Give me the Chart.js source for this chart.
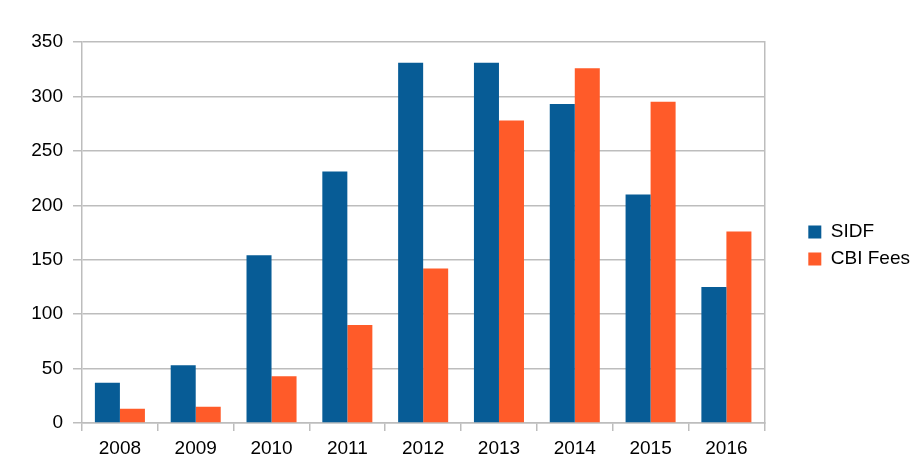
<!DOCTYPE html>
<html lang="en">
<head>
    <meta charset="UTF-8">
    <title>SIDF vs CBI Fees</title>
    <script src="https://cdn.jsdelivr.net/npm/chart.js@4"></script>
    <style>
        html, body { margin: 0; padding: 0; background: #fff; }
        #wrap { width: 924px; height: 474px; }
    </style>
</head>
<body>
<div id="wrap"><canvas id="feesChart" width="924" height="474"></canvas></div>
<script>
    const years = ['2008', '2009', '2010', '2011', '2012', '2013', '2014', '2015', '2016'];
    const sidf = [37, 53, 154, 231, 331, 331, 293, 210, 125];
    const cbiFees = [13, 15, 43, 90, 142, 278, 326, 295, 176];
    const yTicks = [0, 50, 100, 150, 200, 250, 300, 350];

    const gridColor = '#bdbdbd';
    Chart.defaults.font.family = '"Liberation Sans", Arial, sans-serif';
    Chart.defaults.font.size = 19;
    Chart.defaults.color = '#000';

    new Chart(document.getElementById('feesChart'), {
        type: 'bar',
        data: {
            labels: years,
            datasets: [
                { label: 'SIDF', data: sidf, backgroundColor: '#075c96' },
                { label: 'CBI Fees', data: cbiFees, backgroundColor: '#ff5b29' }
            ]
        },
        options: {
            responsive: false,
            animation: false,
            layout: { padding: { top: 42, bottom: 0, left: 0, right: 4 } },
            datasets: { bar: { categoryPercentage: 0.66, barPercentage: 1 } },
            plugins: {
                tooltip: { enabled: false },
                legend: {
                    position: 'right',
                    align: 'start',
                    // empty title only pushes the two entries down to mid height
                    title: { display: true, text: ' ', font: { size: 2 }, padding: { top: 170, bottom: 0 } },
                    labels: { boxWidth: 13, boxHeight: 13, padding: 8, color: '#000' }
                }
            },
            scales: {
                x: {
                    afterFit: s => { s.height = 51; },
                    grid: { drawOnChartArea: false, color: gridColor, lineWidth: 1.5, tickLength: 8, offset: true },
                    border: { color: gridColor, width: 1.5 },
                    ticks: { padding: 6, maxRotation: 0 }
                },
                y: {
                    min: 0,
                    max: 350,
                    afterFit: s => { s.width = 82; },
                    afterBuildTicks: s => { s.ticks = yTicks.map(v => ({ value: v })); },
                    grid: { color: gridColor, lineWidth: 1.5, tickLength: 9 },
                    border: { color: gridColor, width: 1.5 },
                    ticks: { padding: 10 }
                },
                y2: {
                    position: 'right',
                    min: 0,
                    max: 350,
                    afterFit: s => { s.width = 36; },
                    grid: { drawOnChartArea: false, drawTicks: false },
                    border: { color: gridColor, width: 1.5 },
                    ticks: { display: false }
                }
            }
        }
    });
</script>
</body>
</html>
